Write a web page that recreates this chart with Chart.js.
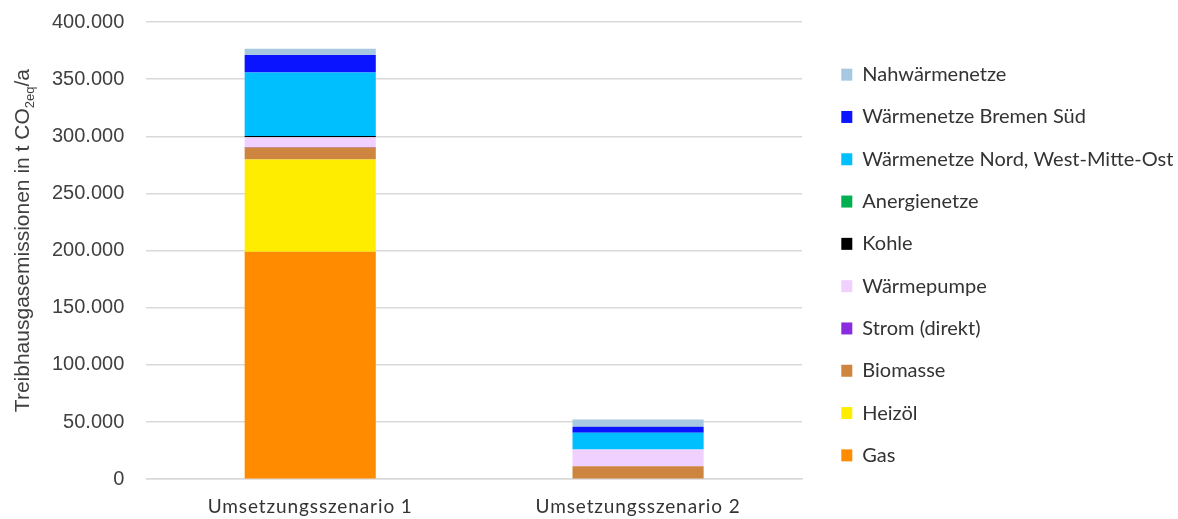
<!DOCTYPE html>
<html lang="de">
<head>
<meta charset="UTF-8">
<title>Treibhausgasemissionen</title>
<script src="https://cdn.jsdelivr.net/npm/chart.js"></script>
<style>
  html, body { margin: 0; padding: 0; background: #fff; }
  #wrap { width: 1178px; height: 519px; }
</style>
</head>
<body>
<div id="wrap"><canvas id="chart" width="1178" height="519"></canvas></div>
<script>
const categories = ['Umsetzungsszenario 1', 'Umsetzungsszenario 2'];

const gas = [199100, 0];
const heizoel = [80700, 0];
const biomasse = [10500, 11400];
const strom = [300, 0];
const waermepumpe = [8500, 14600];
const kohle = [1200, 0];
const anergie = [0, 0];
const nord = [55500, 14600];
const bremen = [15400, 5300];
const nahwaerme = [5300, 6400];

const yTicks = [0, 50000, 100000, 150000, 200000, 250000, 300000, 350000, 400000];

function fmt(v) {
  return String(v).replace(/\B(?=(\d{3})+(?!\d))/g, '.');
}

const LEGEND_W = 376;   // room kept right of the plot
const LEGEND_SHIFT = 17;
const LEGEND_DROP = -9;

// y axis title with subscript
const yTitle = {
  id: 'yTitle',
  afterDraw(chart) {
    const c = chart.ctx;
    const area = chart.chartArea;
    const mid = (area.top + area.bottom) / 2 - 10;
    c.save();
    c.translate(29, mid);
    c.rotate(-Math.PI / 2);
    c.fillStyle = '#404040';
    c.textBaseline = 'alphabetic';
    const big = '21px "Liberation Sans", Arial, sans-serif';
    const small = '13px "Liberation Sans", Arial, sans-serif';
    const parts = [['Treibhausgasemissionen in t CO', big, 0], ['2eq', small, 5], ['/a', big, 0]];
    let w = 0;
    parts.forEach(p => { c.font = p[1]; w += c.measureText(p[0]).width; });
    let x = -w / 2;
    parts.forEach(p => {
      c.font = p[1];
      c.fillText(p[0], x, p[2]);
      x += c.measureText(p[0]).width;
    });
    c.restore();
  }
};

// legend width / offset, spread x labels a little
const tweaks = {
  id: 'tweaks',
  afterInit(chart) {
    const lg = chart.legend;
    const fit = lg.fit.bind(lg);
    lg.fit = function () { fit(); this.width = LEGEND_W; };
  },
  afterLayout(chart) {
    const lg = chart.legend;
    lg.left += LEGEND_SHIFT;
    lg.right += LEGEND_SHIFT;
    lg.top += LEGEND_DROP;
    lg.bottom += LEGEND_DROP;
    const xs = chart.scales.x;
    if (!xs._spaced) {
      const draw = xs.drawLabels.bind(xs);
      xs.drawLabels = function (a) {
        chart.ctx.save();
        chart.ctx.letterSpacing = '0.9px';
        draw(a);
        chart.ctx.restore();
      };
      xs._spaced = true;
    }
  }
};

const ds = (label, data, color) => ({ label, data, backgroundColor: color, borderWidth: 0 });

function build() {
  new Chart(document.getElementById('chart'), {
    type: 'bar',
    data: {
      labels: categories,
      datasets: [
        ds('Gas', gas, '#FF8C00'),
        ds('Heizöl', heizoel, '#FFED00'),
        ds('Biomasse', biomasse, '#CD853F'),
        ds('Strom (direkt)', strom, '#8A2BE2'),
        ds('Wärmepumpe', waermepumpe, '#F0D0FF'),
        ds('Kohle', kohle, '#000000'),
        ds('Anergienetze', anergie, '#00B050'),
        ds('Wärmenetze Nord, West-Mitte-Ost', nord, '#00BFFF'),
        ds('Wärmenetze Bremen Süd', bremen, '#0A14FF'),
        ds('Nahwärmenetze', nahwaerme, '#A6C8E0')
      ]
    },
    options: {
      responsive: false,
      animation: false,
      layout: { padding: { left: 30, top: 22, right: 0, bottom: -7 } },
      datasets: { bar: { barPercentage: 0.4, categoryPercentage: 1 } },
      plugins: {
        tooltip: { enabled: false },
        legend: {
          position: 'right',
          reverse: true,
          align: 'center',
          labels: {
            boxWidth: 11,
            boxHeight: 12,
            padding: 22.3,
            color: '#333333',
            font: { family: 'Lato', size: 20 }
          }
        }
      },
      scales: {
        x: {
          stacked: true,
          grid: { display: false },
          border: { color: '#d9d9d9', width: 1.5 },
          ticks: { color: '#333333', font: { family: 'Lato', size: 19 }, padding: 8 }
        },
        y: {
          stacked: true,
          min: 0,
          max: 400000,
          afterBuildTicks(axis) { axis.ticks = yTicks.map(v => ({ value: v })); },
          afterFit(axis) { axis.paddingTop = 0; axis.paddingBottom = 0; },
          grid: { color: '#d9d9d9', lineWidth: 1.5, drawTicks: false },
          border: { display: false },
          ticks: {
            color: '#404040',
            font: { family: 'Liberation Sans', size: 20 },
            padding: 22,
            callback: v => fmt(v)
          }
        }
      }
    },
    plugins: [yTitle, tweaks]
  });
}

Promise.all([
  document.fonts.load('20px Lato'),
  document.fonts.load('19px Lato'),
  document.fonts.load('20px "Liberation Sans"'),
  document.fonts.load('21px "Liberation Sans"')
]).then(build, build);
</script>
</body>
</html>
